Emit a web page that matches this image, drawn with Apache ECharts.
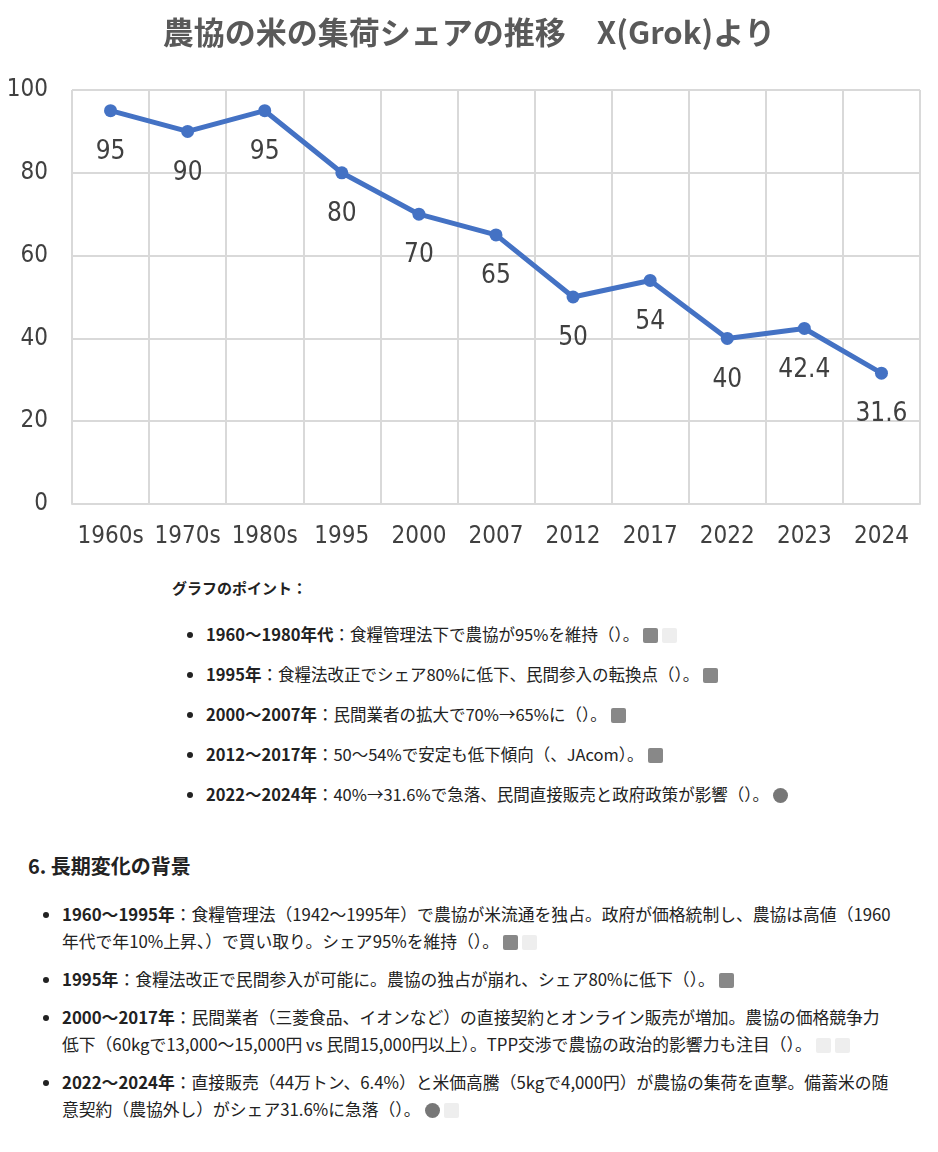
<!DOCTYPE html>
<html>
<head>
<meta charset="utf-8">
<script src="https://cdn.jsdelivr.net/npm/echarts@6/dist/echarts.min.js"></script>
<style>
  body { margin: 0; background: #fff; font-family: "Noto Sans CJK JP", "Noto Sans", sans-serif; color: #222; }
  #chart { width: 938px; height: 565px; }
  .points { margin: 12px 0 0 172px; font-size: 16.5px; }
  .points h4 { margin: 0 0 26px 0; font-size: 15px; }
  .points ul { margin: 0; padding-left: 34px; }
  .points li { height: 40px; line-height: 20px; }
  .bg { margin: 27px 0 0 28px; width: 865px; font-size: 16.8px; }
  .bg h3 { margin: 0 0 21px 0; font-size: 20px; }
  .bg ul { margin: 0; padding-left: 34px; }
  .bg li { line-height: 27px; margin-bottom: 11px; }
  .ic { display: inline-block; width: 15px; height: 15px; background: #888; border-radius: 2px; vertical-align: -2px; margin-left: 4px; }
  .ic.w { background: #eee; }
  .ic.r { border-radius: 8px; background: #777; }
</style>
</head>
<body>
<div id="chart"></div>
<div class="points">
  <h4>グラフのポイント：</h4>
  <ul>
    <li><b>1960〜1980年代</b>：食糧管理法下で農協が95%を維持（）。<span class="ic"></span><span class="ic w"></span></li>
    <li><b>1995年</b>：食糧法改正でシェア80%に低下、民間参入の転換点（）。<span class="ic"></span></li>
    <li><b>2000〜2007年</b>：民間業者の拡大で70%→65%に（）。<span class="ic"></span></li>
    <li><b>2012〜2017年</b>：50〜54%で安定も低下傾向（、JAcom）。<span class="ic"></span></li>
    <li><b>2022〜2024年</b>：40%→31.6%で急落、民間直接販売と政府政策が影響（）。<span class="ic r"></span></li>
  </ul>
</div>
<div class="bg">
  <h3>6. 長期変化の背景</h3>
  <ul>
    <li><b>1960〜1995年</b>：食糧管理法（1942〜1995年）で農協が米流通を独占。政府が価格統制し、農協は高値（1960年代で年10%上昇、）で買い取り。シェア95%を維持（）。<span class="ic"></span><span class="ic w"></span></li>
    <li><b>1995年</b>：食糧法改正で民間参入が可能に。農協の独占が崩れ、シェア80%に低下（）。<span class="ic"></span></li>
    <li><b>2000〜2017年</b>：民間業者（三菱食品、イオンなど）の直接契約とオンライン販売が増加。農協の価格競争力低下（60kgで13,000〜15,000円 vs 民間15,000円以上）。TPP交渉で農協の政治的影響力も注目（）。<span class="ic w"></span><span class="ic w"></span></li>
    <li><b>2022〜2024年</b>：直接販売（44万トン、6.4%）と米価高騰（5kgで4,000円）が農協の集荷を直撃。備蓄米の随意契約（農協外し）がシェア31.6%に急落（）。<span class="ic r"></span><span class="ic w"></span></li>
  </ul>
</div>
<script>
var periods = ['1960s', '1970s', '1980s', '1995', '2000', '2007', '2012', '2017', '2022', '2023', '2024'];
var shares = [95, 90, 95, 80, 70, 65, 50, 54, 40, 42.4, 31.6];
var yTicks = [0, 20, 40, 60, 80, 100];

var numFont = "'DejaVu Sans Condensed', 'Liberation Sans Narrow', 'Noto Sans CJK JP', sans-serif";
var myChart = echarts.init(document.getElementById('chart'));
var option = {
  animation: false,
  title: {
    text: '農協の米の集荷シェアの推移　X(Grok)より',
    left: 'center',
    top: 12,
    textStyle: { fontFamily: "'Noto Sans CJK JP', sans-serif", fontSize: 31, fontWeight: 'bold', color: '#595959' }
  },
  grid: { left: 72, right: 18, top: 90, bottom: 61 },
  xAxis: {
    type: 'category',
    data: periods,
    boundaryGap: true,
    axisLine: { lineStyle: { color: '#d9d9d9', width: 2 } },
    axisTick: { show: false },
    splitLine: { show: true, lineStyle: { color: '#d9d9d9', width: 2 } },
    axisLabel: { fontFamily: numFont, fontSize: 24, color: '#404040', margin: 21, interval: 0 }
  },
  yAxis: {
    type: 'value',
    min: yTicks[0],
    max: yTicks[yTicks.length - 1],
    interval: 20,
    axisLine: { show: false },
    axisTick: { show: false },
    splitLine: { lineStyle: { color: '#d9d9d9', width: 2 } },
    axisLabel: { fontFamily: numFont, fontSize: 24, color: '#404040', margin: 24 }
  },
  series: [{
    type: 'line',
    data: shares,
    symbol: 'circle',
    symbolSize: 13,
    lineStyle: { color: '#4472C4', width: 5 },
    itemStyle: { color: '#4472C4' },
    label: {
      show: true,
      position: 'bottom',
      distance: 22,
      fontFamily: numFont,
      fontSize: 26,
      color: '#404040'
    }
  }]
};
myChart.setOption(option);
</script>
</body>
</html>
